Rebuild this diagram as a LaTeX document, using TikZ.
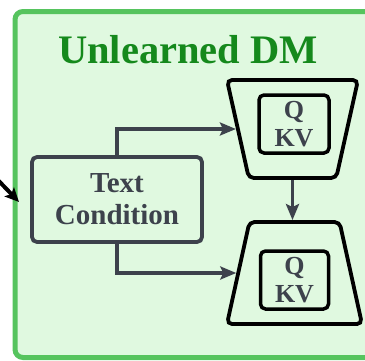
\documentclass[tikz,border=0pt]{standalone}
\usepackage{fontspec}
\setmainfont{Liberation Serif}
\usetikzlibrary{positioning,shapes.geometric,arrows.meta}

\definecolor{framegreen}{HTML}{56C45E}
\definecolor{fillgreen}{HTML}{E0F9E0}
\definecolor{titlegreen}{HTML}{15891C}
\definecolor{linegray}{HTML}{3D424C}

\begin{document}
\begin{tikzpicture}[x=1pt,y=1pt,
  flow/.style={draw=linegray,line width=3.8pt,-{Stealth[length=16pt,width=13pt,inset=3pt]}},
  block/.style={trapezium,draw=black,line width=3.8pt,rounded corners=5pt,trapezium stretches=true},
  attn/.style={draw=black,line width=3.5pt,rounded corners=5pt,text=linegray,align=center,
    font=\fontsize{26}{28}\selectfont\bfseries,minimum width=70pt,minimum height=58pt,inner sep=0pt}]
  \useasboundingbox (0,0) rectangle (365,360);
  \clip (0,0) rectangle (365,360);
  % frame
  \draw[framegreen,fill=fillgreen,line width=5pt,rounded corners=8pt] (15,2.5) rectangle (390,348.5);
  \node[text=titlegreen,font=\fontsize{40.5}{44}\selectfont\bfseries] (title) at (188,310) {Unlearned DM};

  \node[draw=linegray,line width=3.8pt,rounded corners=5pt,text=linegray,align=center,
    font=\fontsize{29}{32}\selectfont\bfseries,minimum width=170pt,minimum height=85pt,inner sep=0pt]
    (cond) at (117,160.5) {Text\\Condition};

  \node[block,trapezium left angle=104,trapezium right angle=104,minimum width=131pt,minimum height=98pt] (enc) at (292.5,231) {};
  \node[block,trapezium angle=76,minimum width=135pt,minimum height=102pt] (dec) at (294.5,87) {};
  \node[attn] (qkv1) at ([xshift=1.5pt,yshift=5pt]enc.center) {Q\\KV};
  \node[attn,minimum width=68pt] (qkv2) at ([yshift=-7pt]dec.center) {Q\\KV};

  \draw[flow] (cond.north) |- (enc.west);
  \draw[flow] (cond.south) |- (dec.west);
  \draw[flow] (enc.south) -- (enc.south |- dec.north);

  % input from outside
  \coordinate (feed) at (-6,184);
  \coordinate (feedtip) at (19,158);
  \draw[black,line width=4pt,-{Stealth[length=14pt,width=13pt,inset=3pt]}] (feed) -- (feedtip);
\end{tikzpicture}
\end{document}
